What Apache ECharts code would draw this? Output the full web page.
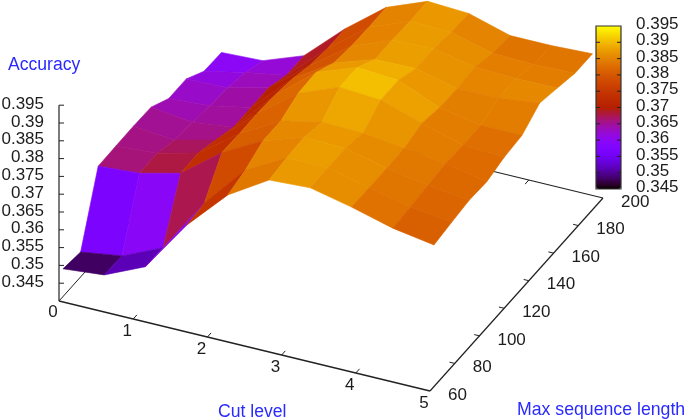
<!DOCTYPE html>
<html><head><meta charset="utf-8">
<style>html,body{margin:0;padding:0;background:#fff}#c{width:685px;height:420px}</style>
<script src="https://cdn.jsdelivr.net/npm/echarts@6/dist/echarts.min.js"></script>
</head><body><div id="c"></div>
<script>
const cutLevels = [0,0.556,1.111,1.667,2.222,2.778,3.333,3.889,4.444,5];
const seqLengths = [63.2,77.5,91.7,106,120.2,134.5,148.8,163,177.3,191.5];
const acc60  = [.3478,.3489,.354,.3685,.3798,.3868,.3874,.3848,.3817,.3798];
const acc77  = [.347,.3487,.3538,.3692,.3813,.3875,.3875,.3847,.3821,.3806];
const acc92  = [.3656,.3664,.3692,.3779,.384,.3878,.3875,.3847,.3827,.3813];
const acc106 = [.3657,.3665,.3694,.3777,.384,.3865,.3862,.3848,.3833,.381];
const acc120 = [.3658,.3647,.3675,.3778,.3863,.3908,.390,.3863,.383,.3824];
const acc134 = [.3656,.3642,.3656,.3774,.3866,.3908,.390,.3852,.383,.383];
const acc149 = [.3625,.3633,.3656,.3765,.3837,.3875,.3878,.385,.3852,.3865];
const acc163 = [.3625,.3628,.3656,.3748,.3829,.3875,.3878,.3855,.3851,.3852];
const acc177 = [.3591,.3616,.3636,.374,.3827,.3872,.3869,.3838,.3835,.3838];
const acc191 = [.3589,.3594,.3636,.374,.3828,.3873,.3867,.3833,.3833,.3838];
const accuracy = [acc60,acc77,acc92,acc106,acc120,acc134,acc149,acc163,acc177,acc191];
const xTicks = [0,1,2,3,4,5];
const yTicks = [60,80,100,120,140,160,180,200];
const zTicks = ['0.345','0.35','0.355','0.36','0.365','0.37','0.375','0.38','0.385','0.39','0.395'];

const ORIGIN=[59,301], XV=[74.2,18], YV=[173/140,-193/140], ZV=-3560, Z0=0.34, Y0=60;
function project(x,y,z){
  return [ORIGIN[0]+x*XV[0]+(y-Y0)*YV[0], ORIGIN[1]+x*XV[1]+(y-Y0)*YV[1]+(z-Z0)*ZV];
}
// palette: gnuplot rgbformulae 7,5,15
const palette=[];
for(let k=0;k<=64;k++){const g=k/64;
  const r=Math.sqrt(g),gg=g*g*g,b=Math.max(0,Math.sin(2*Math.PI*g));
  palette.push('rgb('+Math.round(r*255)+','+Math.round(gg*255)+','+Math.round(b*255)+')');}

// cells back to front
const cells=[];
for(let j=8;j>=0;j--)for(let i=0;i<9;i++){
  const m=(accuracy[j][i]+accuracy[j][i+1]+accuracy[j+1][i]+accuracy[j+1][i+1])/4;
  cells.push([i,j,m]);
}
const TXT='#1c1c1c', BLUE='#2a2aff', FONT='"Liberation Sans",Arial,sans-serif';
const line=(api,a,b,w)=>{const p=api.coord(a),q=api.coord(b);
  return {type:'line',shape:{x1:p[0],y1:p[1],x2:q[0],y2:q[1]},style:{stroke:'#222',lineWidth:w||1}};};
const label=(api,p,t,align,color,size)=>{const q=api.coord(p);
  return {type:'text',x:q[0],y:q[1],style:{text:t,x:0,y:0,align:align,verticalAlign:'middle',fill:color||TXT,font:(size||17)+'px '+FONT}};};

function renderFrame(params,api){
  const ch=[];
  const P=(x,y)=>project(x,y,Z0);
  ch.push(line(api,P(0,60),P(5,60),1.4));
  ch.push(line(api,P(5,60),P(5,200),1.2));
  ch.push(line(api,P(5,200),P(0,200),1.2));
  ch.push(line(api,P(0,200),P(0,60),1));
  const zTop=project(0,60,0.395);
  ch.push(line(api,P(0,60),zTop,1.2));
  xTicks.slice(1,5).forEach(x=>{
    ch.push(line(api,P(x,60),P(x,63),1));
    ch.push(line(api,P(x,200),P(x,197),1));
    const b=P(x,60);
    ch.push(label(api,[b[0]-6,b[1]+12],String(x),'center'));
  });
  const b0=P(0,60),b5=P(5,60);
  ch.push(label(api,[b0[0]-6,b0[1]+11],'0','center'));
  ch.push(label(api,[b5[0]-6,b5[1]+12],'5','center'));
  yTicks.forEach(y=>{
    if(y>60&&y<200){ch.push(line(api,P(5,y),P(4.93,y),1));}
    const b=P(5,y);
    ch.push(label(api,[b[0]+18,b[1]+4],String(y),'left'));
  });
  zTicks.forEach(t=>{
    const p=project(0,60,+t);
    ch.push(line(api,p,[p[0]+5,p[1]],1));
    ch.push(label(api,[44,p[1]-1],t,'right'));
  });
  ch.push(label(api,[8,65],'Accuracy','left',BLUE,17.6));
  ch.push(label(api,[218,412],'Cut level','left',BLUE,17.6));
  ch.push(label(api,[517,410],'Max sequence length','left',BLUE,17.7));
  return {type:'group',children:ch};
}
function renderCell(params,api){
  const i=api.value(0),j=api.value(1);
  const v=(a,b)=>api.coord(project(cutLevels[a],seqLengths[b],accuracy[b][a]));
  const c=api.visual('color');
  return {type:'polygon',shape:{points:[v(i,j),v(i+1,j),v(i+1,j+1),v(i,j+1)]},
    style:{fill:c,stroke:c,lineWidth:0.6}};
}
const CB={x:596,w:25,top:26,bot:189};
function renderBar(params,api){
  const ch=[];
  const a=api.coord([CB.x,CB.top]),b=api.coord([CB.x+CB.w,CB.bot]);
  ch.push({type:'rect',shape:{x:a[0],y:a[1],width:b[0]-a[0],height:b[1]-a[1]},style:{fill:'none',stroke:'#333',lineWidth:1.2}});
  zTicks.forEach((t,k)=>{
    const y=CB.bot-(CB.bot-CB.top)*k/(zTicks.length-1);
    if(k>0&&k<zTicks.length-1){
      ch.push(line(api,[CB.x,y],[CB.x+4,y],1));
      ch.push(line(api,[CB.x+CB.w-4,y],[CB.x+CB.w,y],1));
    }
    ch.push(label(api,[636,y-1.5],t,'left'));
  });
  return {type:'group',children:ch};
}
const chart=echarts.init(document.getElementById('c'),null,{renderer:'canvas'});
chart.setOption({
  animation:false,backgroundColor:'#fff',
  grid:{left:0,right:0,top:0,bottom:0},
  xAxis:{type:'value',min:0,max:685,show:false},
  yAxis:{type:'value',min:0,max:420,inverse:true,show:false},
  tooltip:{show:false},
  visualMap:{type:'continuous',min:0.345,max:0.395,dimension:2,seriesIndex:1,calculable:false,
    showLabel:false,text:null,left:CB.x,top:CB.top,itemWidth:CB.w,itemHeight:CB.bot-CB.top,padding:0,
    inRange:{color:palette},hoverLink:false},
  series:[
    {type:'custom',silent:true,clip:false,z:1,data:[[0,0]],renderItem:renderFrame},
    {type:'custom',silent:true,clip:false,z:2,data:cells,encode:{x:0,y:1},renderItem:renderCell},
    {type:'custom',silent:true,clip:false,z:8,data:[[0,0]],renderItem:renderBar}
  ]
});
</script></body></html>
